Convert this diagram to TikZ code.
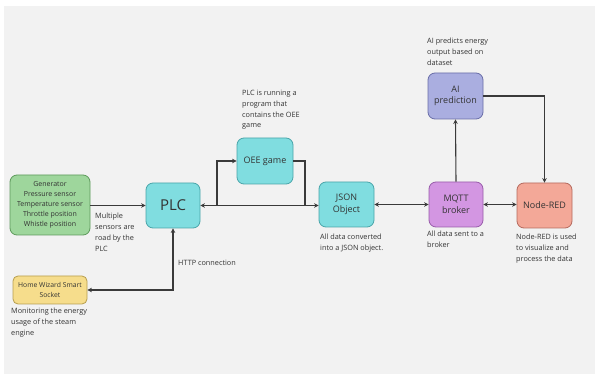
\documentclass[tikz,border=0pt]{standalone}
\usepackage{fontspec}
\setmainfont{Open Sans}
\usetikzlibrary{arrows.meta}
\definecolor{bg}{HTML}{F2F2F2}
\definecolor{ln}{HTML}{3A3A3A}
\definecolor{txt}{HTML}{333333}
\definecolor{gfill}{HTML}{9ED69C}\definecolor{gdraw}{HTML}{5E9A5C}
\definecolor{cfill}{HTML}{80DDE0}\definecolor{cdraw}{HTML}{4AA5AA}
\definecolor{yfill}{HTML}{F6DD8C}\definecolor{ydraw}{HTML}{B79E4E}
\definecolor{pfill}{HTML}{AAAEE0}\definecolor{pdraw}{HTML}{6A6EA8}
\definecolor{mfill}{HTML}{D396E2}\definecolor{mdraw}{HTML}{985CAA}
\definecolor{rfill}{HTML}{F3A898}\definecolor{rdraw}{HTML}{B56A5E}
\tikzset{
  x=1pt,y=-1pt,
  box/.style={rounded corners=7pt, line width=0.8pt, align=center, text=txt,
    inner sep=1pt, font=\fontsize{9}{11.5}\selectfont},
  note/.style={anchor=north west, align=left, text=txt, inner sep=0pt,
    font=\fontsize{7.3}{10.8}\selectfont},
  conn/.style={draw=ln, line width=1.1pt},
  tip/.style={-{Stealth[length=4.5pt,width=4.5pt]}},
  tips/.style={{Stealth[length=4.5pt,width=4.5pt]}-{Stealth[length=4.5pt,width=4.5pt]}}
}
\begin{document}
\begin{tikzpicture}
\useasboundingbox (0,0) rectangle (595,374);
\fill[white] (0,0) rectangle (595,374);
\fill[bg] (4,6) rectangle (595,374);

\node[box, fill=gfill, draw=gdraw, minimum width=80pt, minimum height=60pt,
  font=\fontsize{7}{10}\selectfont] (sens) at (50,205)
  {Generator\\Pressure sensor\\Temperature sensor\\Throttle position\\Whistle position};
\node[box, fill=cfill, draw=cdraw, minimum width=54pt, minimum height=45pt,
  font=\fontsize{15}{18}\selectfont] (plc) at (173,205.5) {PLC};
\node[box, fill=yfill, draw=ydraw, minimum width=74pt, minimum height=28pt,
  rounded corners=5pt, font=\fontsize{6.8}{10}\selectfont] (hw) at (50,290)
  {Home Wizard Smart\\Socket};
\node[box, fill=cfill, draw=cdraw, minimum width=56pt, minimum height=46pt] (oee) at (265,161) {OEE game};
\node[box, fill=cfill, draw=cdraw, minimum width=55pt, minimum height=45pt] (json) at (346.5,204.5) {JSON\\Object};
\node[box, fill=mfill, draw=mdraw, minimum width=54pt, minimum height=45pt] (mqtt) at (456,204.5) {MQTT\\broker};
\node[box, fill=pfill, draw=pdraw, minimum width=55pt, minimum height=46pt] (ai) at (455.5,96) {AI\\prediction};
\node[box, fill=rfill, draw=rdraw, minimum width=55pt, minimum height=45pt] (nr) at (544.5,205.5) {Node-RED};

\coordinate (b1) at (217,205.5);
\coordinate (b2) at (305,205.5);

\draw[conn, tip] (sens.east |- plc.west) -- (plc.west);
\draw[conn, tips] (plc.east) -- (json.west |- plc.east);
\draw[conn, tip] (b1) |- (oee.west);
\draw[conn] (oee.east) -| (b2);
\draw[conn, tips] (plc.south) |- (hw.east);
\draw[conn, tips] (json.east) -- (mqtt.west);
\draw[conn, tip] (mqtt.north) -- (ai.south);
\draw[conn, tip] (ai.east) -| (nr.north);
\draw[conn, tips] (mqtt.east) -- (nr.west |- mqtt.east);

\node[note] (n1) at (95,213) {Multiple\\sensors are\\road by the\\PLC};
\node[note, anchor=west] (n2) at (178,263) {HTTP connection};
\node[note] (n3) at (11,308) {Monitoring the energy\\usage of the steam\\engine};
\node[note] (n4) at (242,90) {PLC is running a\\program that\\contains the OEE\\game};
\node[note] (n5) at (320,234) {All data converted\\into a JSON object.};
\node[note] (n6) at (427,231) {All data sent to a\\broker};
\node[note] (n7) at (427,38) {AI predicts energy\\output based on\\dataset};
\node[note] (n8) at (516,234) {Node-RED is used\\to visualize and\\process the data};
\end{tikzpicture}
\end{document}
